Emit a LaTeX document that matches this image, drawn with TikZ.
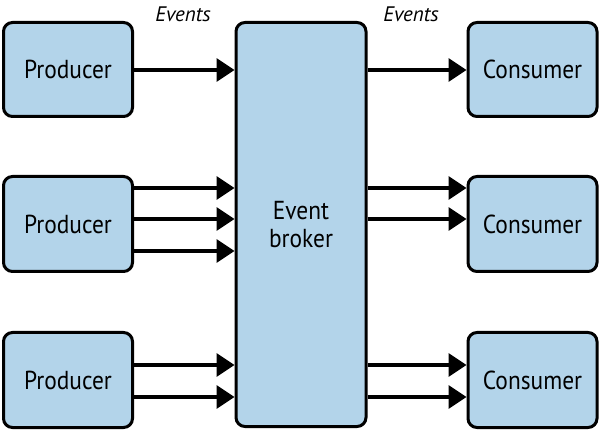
\documentclass[tikz,border=0pt]{standalone}
\usepackage{fontspec}
\setmainfont[FakeStretch=0.9]{PT Sans}
\newfontfamily\lblfont{PT Sans}
\usetikzlibrary{arrows.meta}
\definecolor{boxfill}{RGB}{179,212,234}
\tikzset{
  box/.style={draw=black, line width=3pt, fill=boxfill, rounded corners=9pt, font=\fontsize{26}{28}\selectfont, align=center, inner sep=0pt},
  flow/.style={line width=3.5pt, -{Triangle[length=18pt,width=23pt]}},
  lbl/.style={font=\lblfont\itshape\fontsize{21}{24}\selectfont}
}
\begin{document}
\begin{tikzpicture}[x=1pt,y=-1pt]
\useasboundingbox (0,0) rectangle (600,430);
\node[box, minimum width=129pt, minimum height=94pt] (p1) at (68,69.5) {Producer};
\node[box, minimum width=129pt, minimum height=95pt] (p2) at (68,224) {Producer};
\node[box, minimum width=129pt, minimum height=95pt] (p3) at (68,380) {Producer};
\node[box, minimum width=130pt, minimum height=404pt] (b) at (301,224.5) {Event\\broker};
\node[box, minimum width=129pt, minimum height=94pt] (c1) at (532.5,69.5) {Consumer};
\node[box, minimum width=129pt, minimum height=95pt] (c2) at (532.5,224) {Consumer};
\node[box, minimum width=129pt, minimum height=95pt] (c3) at (532.5,380) {Consumer};
\node[lbl] (e1) at (183,14) {Events};
\node[lbl] (e2) at (411,14) {Events};
\foreach \yy/\pp in {70/p1,188/p2,219/p2,251/p2,365/p3,397/p3}{
  \draw[flow] (\pp.east |- 0,\yy) -- (b.west |- 0,\yy);
}
\foreach \yy/\cc in {70/c1,188/c2,219/c2,365/c3,397/c3}{
  \draw[flow] (b.east |- 0,\yy) -- (\cc.west |- 0,\yy);
}
\end{tikzpicture}
\end{document}
